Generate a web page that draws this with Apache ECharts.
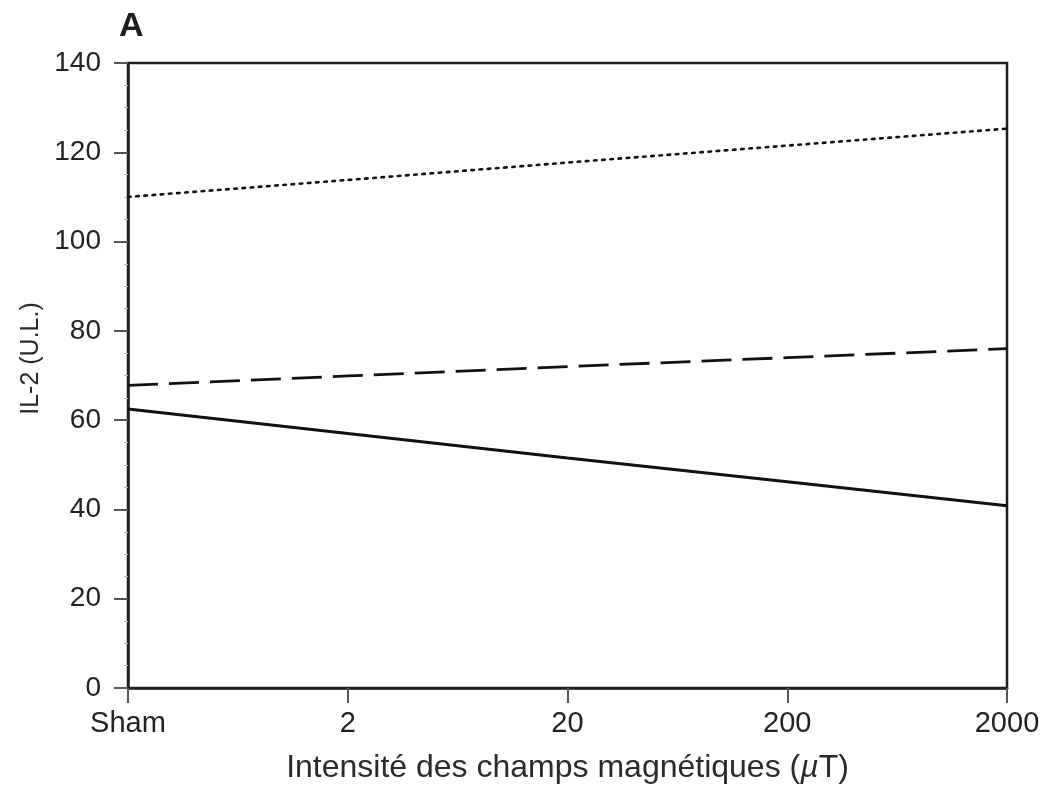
<!DOCTYPE html>
<html>
<head>
<meta charset="utf-8">
<script src="https://cdn.jsdelivr.net/npm/echarts@6/dist/echarts.min.js"></script>
<style>
  html, body { margin: 0; padding: 0; background: #ffffff; }
  #chart { width: 1059px; height: 790px; }
</style>
</head>
<body>
<div id="chart"></div>
<script>
// Field intensity categories (µT)
const categories = ['Sham', '2', '20', '200', '2000'];

// IL-2 levels (U.L.) for the three fitted trends
const dottedValues = [110, 113.8, 117.7, 121.5, 125.3];
const dashedValues = [67.8, 69.9, 72.0, 74.0, 76.0];
const solidValues = [62.5, 57.0, 51.5, 46.2, 40.8];

const yTicks = { min: 0, max: 140, interval: 20 };

const fontFamily = '"Liberation Sans", Arial, Helvetica, sans-serif';
const ink = '#1e1e1e';

const chart = echarts.init(document.getElementById('chart'), null, { renderer: 'canvas' });

chart.setOption({
  backgroundColor: '#ffffff',
  animation: false,
  title: {
    text: 'A',
    left: 114,
    top: 5,
    textStyle: { fontFamily, fontSize: 34, fontWeight: 'bold', color: ink }
  },
  grid: {
    left: 128, right: 52, top: 63, bottom: 102,
    containLabel: false,
    outerBoundsMode: 'none',
    show: true, borderColor: ink, borderWidth: 2.5, backgroundColor: 'transparent'
  },
  xAxis: {
    type: 'category',
    data: categories,
    boundaryGap: false,
    name: '{t|Intensité des champs magnétiques (}{i|µ}{t|T)}',
    nameLocation: 'middle',
    nameGap: 64,
    nameTextStyle: {
      rich: {
        t: { fontFamily, fontSize: 32, color: '#2a2a2a' },
        i: { fontFamily, fontSize: 32, color: '#2a2a2a', fontStyle: 'italic' }
      }
    },
    axisLine: { lineStyle: { color: ink, width: 2.5 } },
    axisTick: { show: true, inside: false, length: 15, alignWithLabel: true, lineStyle: { color: '#555', width: 2 } },
    axisLabel: { fontFamily, fontSize: 29, color: '#222', margin: 21 },
    splitLine: { show: false }
  },
  yAxis: {
    type: 'value',
    min: yTicks.min,
    max: yTicks.max,
    interval: yTicks.interval,
    name: 'IL-2 (U.L.)',
    nameLocation: 'middle',
    nameGap: 84,
    nameRotate: 90,
    nameTextStyle: { fontFamily, fontSize: 25, color: '#2a2a2a', padding: [0, 0, 0, 34] },
    axisLine: { show: true, lineStyle: { color: ink, width: 2.5 } },
    axisTick: { show: true, length: 14, lineStyle: { color: '#555', width: 2 } },
    minorTick: { show: true, splitNumber: 4, length: 4, lineStyle: { color: '#bbb', width: 1 } },
    axisLabel: { fontFamily, fontSize: 28, color: '#222', margin: 27 },
    splitLine: { show: false }
  },
  series: [
    {
      name: 'dotted',
      type: 'line',
      data: dottedValues,
      symbol: 'none',
      lineStyle: { color: '#111', width: 2.6, type: [2.6, 5.6], cap: 'round' }
    },
    {
      name: 'dashed',
      type: 'line',
      data: dashedValues,
      symbol: 'none',
      lineStyle: { color: '#111', width: 2.8, type: [30, 11] }
    },
    {
      name: 'solid',
      type: 'line',
      data: solidValues,
      symbol: 'none',
      lineStyle: { color: '#111', width: 3, type: 'solid' }
    }
  ]
});
</script>
</body>
</html>
